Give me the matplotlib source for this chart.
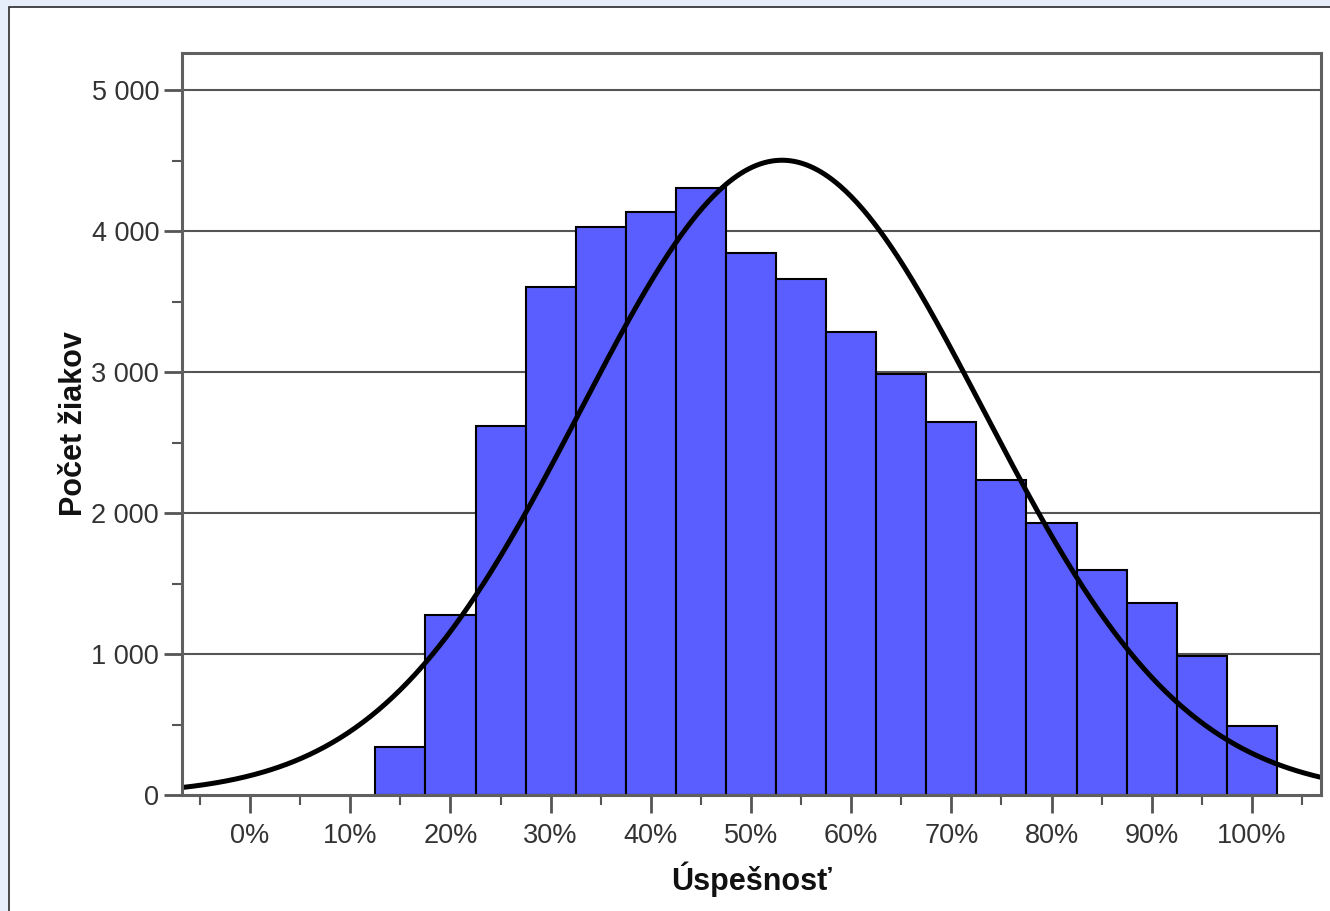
import numpy as np
import matplotlib
matplotlib.use("Agg")
import matplotlib.pyplot as plt
from matplotlib.patches import Rectangle
from matplotlib.ticker import FixedLocator, FuncFormatter

# ---- data ----
bin_centers = [15, 20, 25, 30, 35, 40, 45, 50, 55, 60, 65, 70, 75, 80, 85, 90, 95, 100]
counts = [340, 1280, 2620, 3608, 4034, 4140, 4311, 3849, 3665, 3288,
          2990, 2649, 2237, 1932, 1598, 1364, 987, 490]
bin_width = 5
curve_mean = 53.1
curve_sd = 20.1
curve_peak = 4505
x_ticks = [0, 10, 20, 30, 40, 50, 60, 70, 80, 90, 100]
x_tick_labels = ["0%", "10%", "20%", "30%", "40%", "50%", "60%", "70%", "80%", "90%", "100%"]
y_ticks = [0, 1000, 2000, 3000, 4000, 5000]
x_label = "Úspešnosť"
y_label = "Počet žiakov"

W, H = 1330, 911
fig = plt.figure(figsize=(W / 100, H / 100), dpi=100)
fig.patch.set_facecolor("#E6EEFB")

# white panel with dark border
panel = Rectangle((9 / W, -0.05), 1.2, (H - 7) / H + 0.05, transform=fig.transFigure,
                  facecolor="white", edgecolor="#2a2a2a", linewidth=1.2, zorder=-10)
fig.patches.append(panel)

ax = fig.add_axes([182 / W, (H - 795) / H, (1321 - 182) / W, (795 - 53) / H])
ax.set_zorder(5)
ax.set_facecolor("white")
ax.set_xlim(-6.8, 106.9)
ax.set_ylim(0, 5266)

grid_col = "#555555"
for yv in y_ticks[1:]:
    ax.axhline(yv, color=grid_col, linewidth=1.5, zorder=1)

ax.bar(bin_centers, counts, width=bin_width, color="#5A5EFF", edgecolor="black",
       linewidth=1.5, zorder=2)

xs = np.linspace(-6.8, 106.9, 600)
ys = curve_peak * np.exp(-0.5 * ((xs - curve_mean) / curve_sd) ** 2)
ax.plot(xs, ys, color="black", linewidth=3.6, zorder=3, solid_capstyle="butt")

for s in ax.spines.values():
    s.set_color("#606060")
    s.set_linewidth(2.2)
    s.set_zorder(4)

ax.xaxis.set_major_locator(FixedLocator(x_ticks))
ax.set_xticklabels(x_tick_labels)
ax.xaxis.set_minor_locator(FixedLocator(list(range(-5, 110, 10))))
ax.yaxis.set_major_locator(FixedLocator(y_ticks))
ax.yaxis.set_minor_locator(FixedLocator([500, 1500, 2500, 3500, 4500]))
ax.yaxis.set_major_formatter(FuncFormatter(lambda v, p: f"{v:,.0f}".replace(",", " ")))

font = "Liberation Sans"
ax.tick_params(axis="both", which="major", length=13, width=2, color="#555555",
               labelsize=19.5, labelcolor="#333333", direction="out")
ax.tick_params(axis="both", which="minor", length=7, width=1.5, color="#555555",
               direction="out")
ax.tick_params(axis="x", which="major", pad=7.5)
ax.tick_params(axis="y", which="major", pad=3.5)
for lab in ax.get_xticklabels() + ax.get_yticklabels():
    lab.set_fontfamily(font)

ax.set_xlabel(x_label, fontsize=22, fontweight="bold", family=font, labelpad=9, color="#111111")
ax.set_ylabel(y_label, fontsize=22, fontweight="bold", family=font, labelpad=2, color="#111111")

fig.savefig("out.png", dpi=100, facecolor=fig.get_facecolor())
